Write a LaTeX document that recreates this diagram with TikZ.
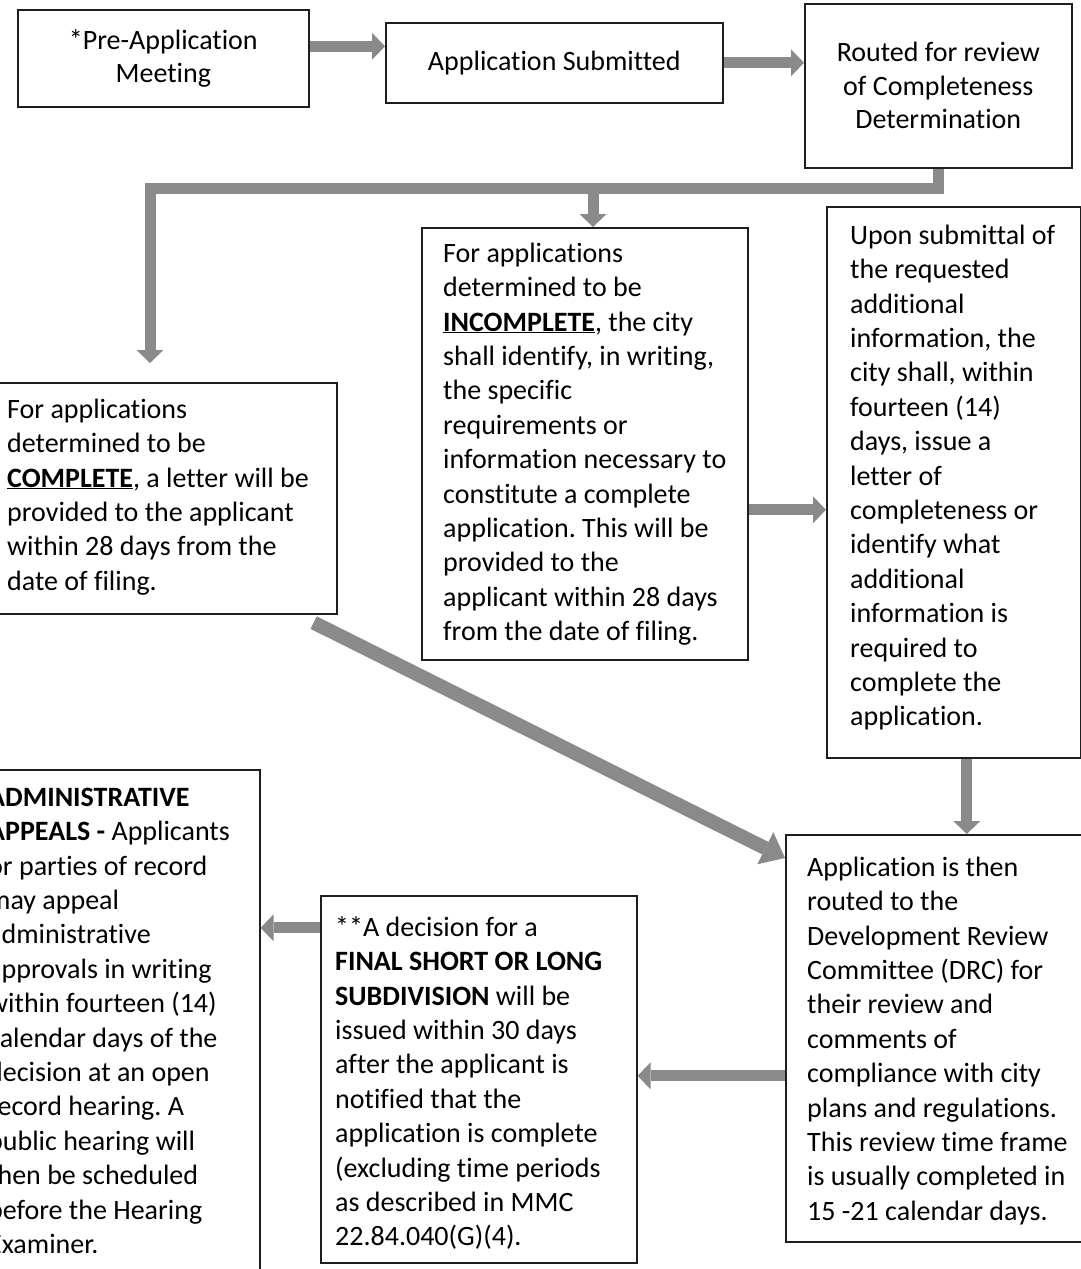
\documentclass[tikz,border=0pt]{standalone}
\usepackage{fontspec}
\setmainfont{Carlito}[Ligatures=NoCommon]
\frenchspacing
\usetikzlibrary{arrows.meta,calc}
\definecolor{arrowgray}{HTML}{8A8A8A}
\definecolor{boxline}{HTML}{1E1E1E}
\begin{document}
\begin{tikzpicture}[x=1pt,y=-1pt,
  box/.style={draw=boxline, line width=1.6pt, rectangle, inner sep=0pt, anchor=north west},
  ttl/.style={font=\fontsize{28}{33.5}\selectfont, align=center},
  txt/.style={font=\fontsize{28}{34.4}\selectfont, align=left, inner sep=0pt, anchor=north west},
  blk/.style={draw=arrowgray, line width=11pt, -{Triangle[width=27pt,length=13pt,line width=0pt]}},
  blkbig/.style={draw=arrowgray, line width=14pt, -{Triangle[width=36pt,length=22pt,line width=0pt]}},
]
\useasboundingbox (0,0) rectangle (1081,1269);
\fill[white] (0,0) rectangle (1081,1269);
\clip (0,0) rectangle (1081,1269);

% boxes
\node[box, ttl, minimum width=291pt, minimum height=97pt] (b1) at (17,9) {*Pre-Application\\Meeting};
\node[box, ttl, minimum width=337pt, minimum height=80pt] (b2) at (385,22) {Application Submitted};
\node[box, ttl, minimum width=267pt, minimum height=164pt] (b3) at (804,3) {Routed for review\\of Completeness\\Determination};
\node[box, minimum width=348pt, minimum height=231pt] (b4) at (-12,382) {};
\node[box, minimum width=326pt, minimum height=432pt] (b5) at (421,227) {};
\node[box, minimum width=254pt, minimum height=551pt] (b6) at (826,206) {};
\node[box, minimum width=299pt, minimum height=540pt] (b7) at (-40,769) {};
\node[box, minimum width=316pt, minimum height=367pt] (b8) at (320,895) {};
\node[box, minimum width=305pt, minimum height=407pt] (b9) at (785,834) {};

% texts
\node[txt] (t4) at (7,394) {\strut For applications\\determined to be\\\underline{\textbf{COMPLETE}}, a letter will be\\provided to the applicant\\within 28 days from the\\date of filing.};
\node[txt] (t5) at (443,238) {\strut For applications\\determined to be\\\underline{\textbf{INCOMPLETE}}, the city\\shall identify, in writing,\\the specific\\requirements or\\information necessary to\\constitute a complete\\application. This will be\\provided to the\\applicant within 28 days\\from the date of filing.};
\node[txt] (t6) at (850,220) {\strut Upon submittal of\\the requested\\additional\\information, the\\city shall, within\\fourteen (14)\\days, issue a\\letter of\\completeness or\\identify what\\additional\\information is\\required to\\complete the\\application.};
\node[txt] (t7) at (-12,782) {\strut\textbf{ADMINISTRATIVE}\\\textbf{APPEALS -} Applicants\\or parties of record\\may appeal\\administrative\\approvals in writing\\within fourteen (14)\\calendar days of the\\decision at an open\\record hearing. A\\public hearing will\\then be scheduled\\before the Hearing\\Examiner.};
\node[txt] (t8) at (335,912) {\strut**A decision for a\\\textbf{FINAL SHORT OR LONG}\\\textbf{SUBDIVISION} will be\\issued within 30 days\\after the applicant is\\notified that the\\application is complete\\(excluding time periods\\as described in MMC\\22.84.040(G)(4).};
\node[txt] (t9) at (807,852) {\strut Application is then\\routed to the\\Development Review\\Committee (DRC) for\\their review and\\comments of\\compliance with city\\plans and regulations.\\This review time frame\\is usually completed in\\15 -21 calendar days.};

% connectors
\coordinate (a1s) at ([yshift=12pt]b1.east);
\draw[blk] (a1s) -- (a1s -| b2.west);
\draw[blk] (b2.east) -- (b2.east -| b3.west);
\coordinate (elb) at (150,188);
\draw[blk, shorten >=19pt] (b3.south) |- (elb) -- (elb |- b4.north);
\coordinate (br) at (593,188);
\draw[blk] (br) -- (br |- b5.north);
\draw[blkbig] ($(b4.south east)+(-24,8)$) -- ($(b9.north west)+(0,24)$);
\coordinate (a5s) at ([yshift=-66pt]b5.east);
\draw[blk] (a5s) -- (a5s -| b6.west);
\coordinate (a6s) at ([xshift=13pt]b6.south);
\draw[blk] (a6s) -- (a6s |- b9.north);
\coordinate (a7s) at ([yshift=-37.5pt]b9.west);
\draw[blk] (a7s) -- (a7s -| b8.east);
\coordinate (a8s) at ([yshift=151.5pt]b8.west);
\draw[blk] (a8s) -- (a8s -| b7.east);
\end{tikzpicture}
\end{document}
